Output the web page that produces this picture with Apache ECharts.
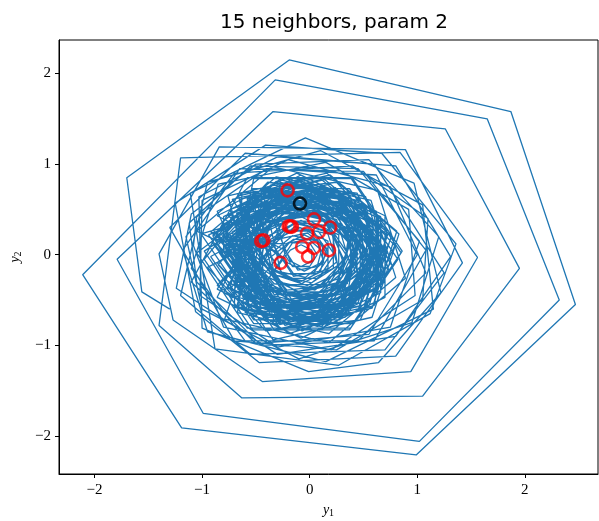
<!DOCTYPE html>
<html>
<head>
<meta charset="utf-8">
<script src="https://cdn.jsdelivr.net/npm/echarts@6/dist/echarts.min.js"></script>
<style>html,body{margin:0;padding:0;background:#fff}#c{width:599px;height:521px}</style>
</head>
<body>
<div id="c"></div>
<script>
const titleText = '15 neighbors, param 2';
const xTicks = [-2, -1, 0, 1, 2];
const yTicks = [-2, -1, 0, 1, 2];

// outer and medium loops of the trajectory (y1, y2)
const trajOuter = [
  [-1.30,-0.60],
  [-1.56,-0.41],[-1.70,0.85],[-0.19,2.15],[1.87,1.58],[2.47,-0.55],[0.99,-2.21],[-1.19,-1.91],[-2.11,-0.22],
  [-0.32,1.93],[1.65,1.50],[2.32,-0.50],[1.02,-2.06],[-0.99,-1.75],[-1.79,-0.05],
  [-0.34,1.58],[1.26,1.39],[1.95,-0.15],[1.05,-1.56],[-0.63,-1.58],[-1.40,-0.78],
  [-1.20,1.07],[0.84,1.13],[1.56,-0.03],[0.94,-1.29],[-0.44,-1.40],[-1.27,-0.72],
  [-1.40,0.01],[-0.84,1.19],[0.89,1.16],[1.42,-0.09],[0.80,-1.12],[-0.47,-1.19],[-1.06,-0.63],
  [-1.25,0.57],[-0.41,1.21],[0.67,1.12],[1.36,0.12],[1.12,-0.65],[0.27,-1.22],[-0.88,-1.04],
  [-1.11,0.68],[-0.04,1.29],[0.97,0.79],[1.22,-0.42],[0.64,-1.19],[-0.01,-1.29],[-1.00,-0.81],
  [-1.03,0.64],[-0.30,1.08],[0.80,0.98],[1.31,-0.02],[0.80,-0.90],[-0.30,-1.10],
  [-1.24,-0.37],[-1.10,0.45],[-0.50,1.00],[0.55,1.05],[1.20,0.20],[0.95,-0.75],[-0.10,-1.15],[-1.00,-0.60],
  [-1.15,0.20],[-0.70,0.90],[0.40,0.98],[1.10,0.40],[1.05,-0.50],[0.25,-1.05],[-0.70,-0.95],
  [-1.30,0.30],[-0.60,1.12],[0.60,1.00],[1.25,-0.20],[0.70,-1.05],[-0.55,-1.10],[-1.20,-0.45],
  [-0.95,0.80],[0.10,1.15],[1.05,0.55],[1.15,-0.60],[0.15,-1.18],[-0.95,-0.85],
  [-1.18,0.05],[-0.65,0.95],[0.50,0.92],[1.08,0.05],[0.60,-0.95],[-0.45,-1.00],[-1.05,-0.30],
  [-1.12,0.35],[-0.55,0.98],[0.45,0.95],[1.02,0.15],[0.75,-0.80],[-0.30,-1.02],[-1.02,-0.45],
  [-1.00,0.60],[-0.20,1.05],[0.75,0.75],[1.08,-0.20],[0.45,-0.95],[-0.60,-0.95],[-1.10,-0.15],
  [-0.85,0.78],[0.15,1.02],[0.92,0.50],[0.98,-0.45],[0.20,-1.05],[-0.80,-0.80],[-1.08,0.10],
  [-1.05,0.42],[-0.40,0.95],[0.62,0.88],[1.00,0.00],[0.55,-0.88],[-0.50,-0.98],[-1.10,-0.30]
];

// dense inner loops of the trajectory (y1, y2)
const trajInner = [
  [-0.58,0.85],[0.38,0.85],[0.85,0.02],[0.38,-0.81],[-0.58,-0.81],[-1.05,0.02],
  [-0.55,0.47],[0.13,0.65],[0.63,0.15],[0.45,-0.53],[-0.23,-0.71],[-0.73,0.15],
  [-0.86,0.48],[-0.12,0.90],[0.62,0.48],[0.62,-0.38],[-0.12,-0.80],[-0.86,-0.38],
  [-0.55,0.14],[-0.16,0.53],[0.37,0.39],[0.51,-0.14],[0.12,-0.53],[-0.41,-0.39],
  [-0.53,0.73],[0.37,0.73],[0.82,-0.05],[0.37,-0.83],[-0.53,-0.83],[-0.98,-0.05],
  [-0.61,0.49],[0.02,0.66],[0.48,0.20],[0.31,-0.43],[-0.32,-0.60],[-0.78,0.20],
  [-0.73,0.41],[-0.05,0.80],[0.63,0.41],[0.63,-0.37],[-0.05,-0.76],[-0.73,-0.37],
  [-0.33,0.37],[0.13,0.37],[0.35,-0.02],[0.13,-0.41],[-0.33,-0.41],[-0.55,-0.02],
  [-1.05,0.26],[-0.34,0.97],[0.63,0.71],[0.89,-0.26],[0.18,-0.97],[-0.79,-0.71],
  [-0.45,0.48],[0.14,0.63],[0.56,0.21],[0.41,-0.38],[-0.18,-0.53],[-0.60,0.21],
  [-0.52,0.68],[0.28,0.68],[0.68,-0.02],[0.28,-0.72],[-0.52,-0.72],[-0.92,-0.02],
  [-0.50,0.25],[-0.06,0.50],[0.38,0.25],[0.38,-0.25],[-0.06,-0.50],[-0.50,-0.25],
  [-0.66,0.65],[0.19,0.88],[0.81,0.26],[0.58,-0.59],[-0.27,-0.82],[-0.89,0.26],
  [-0.78,0.14],[-0.28,0.64],[0.40,0.46],[0.58,-0.22],[0.08,-0.72],[-0.60,-0.54],
  [-0.25,0.37],[0.15,0.37],[0.35,0.02],[0.15,-0.33],[-0.25,-0.33],[-0.45,0.02],
  [-0.74,0.38],[-0.09,0.75],[0.56,0.38],[0.56,-0.38],[-0.09,-0.75],[-0.74,-0.38],
  [-0.52,0.84],[0.40,0.84],[0.86,0.04],[0.40,-0.76],[-0.52,-0.76],[-0.98,0.04],
  [-0.53,0.39],[0.03,0.54],[0.44,0.13],[0.29,-0.43],[-0.27,-0.58],[-0.68,0.13],
  [-0.37,0.59],[0.31,0.59],[0.65,0.00],[0.31,-0.59],[-0.37,-0.59],[-0.71,0.00],
  [-0.38,0.21],[-0.08,0.38],[0.22,0.21],[0.22,-0.15],[-0.08,-0.32],[-0.38,-0.15],
  [-0.90,0.22],[-0.31,0.81],[0.48,0.59],[0.70,-0.20],[0.11,-0.79],[-0.68,-0.57],
  [-0.37,0.51],[0.25,0.51],[0.56,-0.03],[0.25,-0.57],[-0.37,-0.57],[-0.68,-0.03],
  [-0.43,0.36],[0.03,0.49],[0.38,0.14],[0.25,-0.32],[-0.21,-0.45],[-0.56,0.14],
  [-0.67,0.34],[-0.04,0.70],[0.59,0.34],[0.59,-0.38],[-0.04,-0.74],[-0.67,-0.38],
  [-0.22,0.26],[0.08,0.26],[0.23,0.00],[0.08,-0.26],[-0.22,-0.26],[-0.37,0.00],
  [-0.72,0.61],[0.11,0.83],[0.72,0.22],[0.50,-0.61],[-0.33,-0.83],[-0.94,0.22],
  [-0.33,0.52],[0.23,0.52],[0.50,0.04],[0.23,-0.44],[-0.33,-0.44],[-0.60,0.04],
  [-0.72,0.14],[-0.25,0.61],[0.39,0.44],[0.56,-0.20],[0.09,-0.67],[-0.55,-0.50],
  [-0.47,0.22],[-0.10,0.43],[0.27,0.22],[0.27,-0.20],[-0.10,-0.41],[-0.47,-0.20],
  [-0.45,0.70],[0.33,0.70],[0.72,0.02],[0.33,-0.66],[-0.45,-0.66],[-0.84,0.02],
  [-0.26,0.18],[-0.02,0.24],[0.16,0.07],[0.10,-0.18],[-0.15,-0.24],[-0.32,0.07],
  [-0.55,0.32],[-0.03,0.62],[0.49,0.32],[0.49,-0.28],[-0.03,-0.58],[-0.55,-0.28],
  [-0.76,0.65],[0.16,0.90],[0.83,0.23],[0.58,-0.69],[-0.34,-0.94],[-1.01,0.23],
  [-0.33,0.46],[0.19,0.46],[0.45,0.01],[0.19,-0.44],[-0.33,-0.44],[-0.59,0.01],
  [-0.42,0.08],[-0.15,0.35],[0.22,0.25],[0.32,-0.12],[0.05,-0.39],[-0.32,-0.29],
  [-0.45,0.64],[0.25,0.64],[0.60,0.03],[0.25,-0.58],[-0.45,-0.58],[-0.80,0.03],
  [-0.80,0.42],[-0.07,0.84],[0.66,0.42],[0.66,-0.42],[-0.07,-0.84],[-0.80,-0.42],
  [-0.41,0.35],[0.04,0.47],[0.37,0.14],[0.25,-0.31],[-0.20,-0.43],[-0.53,0.14],
  [-0.36,0.55],[0.28,0.55],[0.60,-0.01],[0.28,-0.57],[-0.36,-0.57],[-0.68,-0.01],
  [-0.35,0.15],[-0.09,0.30],[0.17,0.15],[0.17,-0.15],[-0.09,-0.30],[-0.35,-0.15],
  [-0.56,0.63],[0.24,0.74],[0.73,0.11],[0.44,-0.63],[-0.36,-0.74],[-0.85,-0.11],
  [-0.51,0.36],[0.00,0.56],[0.43,0.22],[0.35,-0.32],[-0.16,-0.52],[-0.59,-0.18],
  [-0.72,0.25],[-0.15,0.69],[0.52,0.43],[0.62,-0.29],[0.05,-0.73],[-0.62,-0.47],
  [-0.71,0.10],[-0.33,0.59],[0.28,0.50],[0.51,-0.08],[0.13,-0.57],[-0.48,-0.48],
  [-0.74,0.50],[0.05,0.81],[0.72,0.28],[0.60,-0.56],[-0.19,-0.87],[-0.86,-0.34],
  [-0.32,0.39],[0.13,0.45],[0.41,0.09],[0.24,-0.33],[-0.21,-0.39],[-0.49,-0.03],
  [-0.76,0.10],[-0.34,0.63],[0.33,0.54],[0.58,-0.10],[0.16,-0.63],[-0.51,-0.54],
  [-0.58,0.62],[0.17,0.73],[0.64,0.13],[0.36,-0.58],[-0.39,-0.69],[-0.86,-0.09],
  [-0.52,0.18],[-0.12,0.49],[0.35,0.30],[0.42,-0.20],[0.02,-0.51],[-0.45,-0.32],
  [-0.87,0.12],[-0.36,0.77],[0.45,0.66],[0.75,-0.10],[0.24,-0.75],[-0.57,-0.64],
  [-0.56,0.34],[-0.02,0.55],[0.44,0.19],[0.36,-0.38],[-0.18,-0.59],[-0.64,-0.23],
  [-0.46,0.57],[0.23,0.67],[0.66,0.12],[0.40,-0.53],[-0.29,-0.63],[-0.72,-0.08],
  [-0.48,0.06],[-0.23,0.37],[0.17,0.32],[0.32,-0.06],[0.07,-0.37],[-0.33,-0.32],
  [-0.82,0.32],[-0.20,0.80],[0.53,0.51],[0.64,-0.26],[0.02,-0.74],[-0.71,-0.45],
  [-0.56,0.39],[0.04,0.62],[0.55,0.23],[0.46,-0.41],[-0.14,-0.64],[-0.65,-0.25],
  [-0.63,0.68],[0.25,0.80],[0.79,0.10],[0.47,-0.72],[-0.41,-0.84],[-0.95,-0.14],
  [-0.57,0.09],[-0.25,0.50],[0.26,0.43],[0.45,-0.05],[0.13,-0.46],[-0.38,-0.39],
  [-0.68,0.46],[0.00,0.73],[0.59,0.27],[0.48,-0.46],[-0.20,-0.73],[-0.79,-0.27],
  [-0.40,0.14],[-0.12,0.36],[0.21,0.23],[0.26,-0.12],[-0.02,-0.34],[-0.35,-0.21],
  [-0.47,0.49],[0.18,0.58],[0.59,0.06],[0.35,-0.55],[-0.30,-0.64],[-0.71,-0.12],
  [-0.78,0.30],[-0.15,0.79],[0.59,0.50],[0.70,-0.30],[0.07,-0.79],[-0.67,-0.50],
  [-0.44,0.45],[0.12,0.53],[0.46,0.09],[0.26,-0.43],[-0.30,-0.51],[-0.64,-0.07],
  [-0.78,0.09],[-0.34,0.66],[0.38,0.56],[0.64,-0.11],[0.20,-0.68],[-0.52,-0.58],
  [-0.40,0.29],[0.01,0.46],[0.36,0.18],[0.30,-0.25],[-0.11,-0.42],[-0.46,-0.14],
  [-0.67,0.22],[-0.19,0.59],[0.36,0.37],[0.45,-0.22],[-0.03,-0.59],[-0.58,-0.37],
  [-0.91,0.14],[-0.39,0.80],[0.44,0.68],[0.75,-0.10],[0.23,-0.76],[-0.60,-0.64],
  [-0.36,0.37],[0.12,0.44],[0.42,0.06],[0.24,-0.39],[-0.24,-0.46],[-0.54,-0.08],
  [-0.64,0.46],[0.01,0.72],[0.56,0.29],[0.46,-0.40],[-0.19,-0.66],[-0.74,-0.23],
  [-0.61,0.21],[-0.12,0.59],[0.46,0.36],[0.55,-0.25],[0.06,-0.63],[-0.52,-0.40],
  [-0.85,0.11],[-0.38,0.71],[0.37,0.60],[0.65,-0.11],[0.18,-0.71],[-0.57,-0.60],
  [-0.16,0.13],[0.00,0.13],[0.07,0.00],[0.00,-0.13],[-0.16,-0.13],[-0.23,0.00],
  [-0.31,0.45],[0.27,0.45],[0.56,-0.05],[0.27,-0.55],[-0.31,-0.55],[-0.60,-0.05],
  [-0.60,0.49],[0.12,0.68],[0.65,0.15],[0.46,-0.57],[-0.26,-0.76],[-0.79,0.15],
  [-0.22,0.12],[-0.05,0.22],[0.12,0.12],[0.12,-0.08],[-0.05,-0.18],[-0.22,-0.08],
  [-0.67,0.37],[-0.10,0.70],[0.47,0.37],[0.47,-0.29],[-0.10,-0.62],[-0.67,-0.29],
  [-0.90,0.21],[-0.28,0.83],[0.57,0.60],[0.80,-0.25],[0.18,-0.87],[-0.67,-0.64],
  [-0.62,0.16],[-0.26,0.52],[0.25,0.39],[0.38,-0.12],[0.02,-0.48],[-0.49,-0.35],
  [-0.59,0.57],[0.19,0.78],[0.76,0.21],[0.55,-0.57],[-0.23,-0.78],[-0.80,0.21],
  [-0.33,0.04],[-0.16,0.21],[0.07,0.15],[0.13,-0.08],[-0.04,-0.25],[-0.27,-0.19],
  [-0.43,0.66],[0.27,0.66],[0.62,0.05],[0.27,-0.56],[-0.43,-0.56],[-0.78,0.05],
  [-0.49,0.44],[0.11,0.60],[0.55,0.16],[0.39,-0.44],[-0.21,-0.60],[-0.65,0.16],
  [-0.88,0.17],[-0.32,0.73],[0.43,0.52],[0.64,-0.23],[0.08,-0.79],[-0.67,-0.58],
  [-0.19,0.13],[-0.01,0.17],[0.11,0.05],[0.07,-0.13],[-0.11,-0.17],[-0.23,0.05],
  [-0.86,0.43],[-0.08,0.88],[0.70,0.43],[0.70,-0.47],[-0.08,-0.92],[-0.86,-0.47],
  [-0.58,0.19],[-0.19,0.58],[0.36,0.44],[0.50,-0.11],[0.11,-0.50],[-0.44,-0.36],
  [-0.65,0.30],[-0.06,0.64],[0.53,0.30],[0.53,-0.38],[-0.06,-0.72],[-0.65,-0.38],
  [-0.25,0.27],[0.03,0.27],[0.17,0.03],[0.03,-0.21],[-0.25,-0.21],[-0.39,0.03],
  [-0.65,0.61],[0.14,0.83],[0.73,0.24],[0.51,-0.55],[-0.28,-0.77],[-0.87,0.24],
  [-0.40,0.51],[0.20,0.51],[0.50,-0.01],[0.20,-0.53],[-0.40,-0.53],[-0.70,-0.01],
  [-0.73,0.20],[-0.22,0.71],[0.48,0.52],[0.67,-0.18],[0.16,-0.69],[-0.54,-0.50],
  [-0.18,0.05],[-0.08,0.11],[0.02,0.05],[0.02,-0.07],[-0.08,-0.13],[-0.18,-0.07],
  [-0.43,0.63],[0.33,0.63],[0.71,-0.03],[0.33,-0.69],[-0.43,-0.69],[-0.81,-0.03],
  [-0.40,0.36],[0.09,0.49],[0.45,0.13],[0.32,-0.36],[-0.17,-0.49],[-0.53,0.13],
  [-0.92,0.25],[-0.31,0.86],[0.52,0.64],[0.74,-0.19],[0.13,-0.80],[-0.70,-0.58],
  [-0.68,0.32],[-0.12,0.64],[0.44,0.32],[0.44,-0.32],[-0.12,-0.64],[-0.68,-0.32],
  [-0.15,0.17],[0.07,0.17],[0.18,-0.02],[0.07,-0.21],[-0.15,-0.21],[-0.26,-0.02],
  [-0.76,0.43],[-0.06,0.83],[0.64,0.43],[0.64,-0.37],[-0.06,-0.77],[-0.76,-0.37],
  [-0.60,0.10],[-0.22,0.48],[0.30,0.34],[0.44,-0.18],[0.06,-0.56],[-0.46,-0.42],
  [-0.60,0.52],[0.08,0.70],[0.58,0.20],[0.40,-0.48],[-0.28,-0.66],[-0.78,0.20],
  [-0.37,0.08],[-0.14,0.31],[0.17,0.23],[0.25,-0.08],[0.02,-0.31],[-0.29,-0.23]
];

const neighborsY1 = [-0.205, 0.04, -0.195, -0.165, -0.18, 0.19, -0.025, 0.085, -0.45, -0.43, -0.07, 0.04, 0.18, -0.015, -0.27];
const neighborsY2 = [0.71, 0.39, 0.315, 0.31, 0.31, 0.30, 0.235, 0.25, 0.15, 0.16, 0.086, 0.075, 0.05, -0.02, -0.09];
const queryY1 = [-0.09];
const queryY2 = [0.565];

const fmt = v => String(v).replace('-', '\u2212');
const tickFont = {fontFamily: 'Liberation Serif', fontSize: 15, color: '#000'};

const chart = echarts.init(document.getElementById('c'), null, {renderer: 'canvas'});
chart.setOption({
  animation: false,
  backgroundColor: '#fff',
  title: {
    text: titleText,
    left: 329, top: 8, textAlign: 'center',
    textStyle: {fontFamily: 'DejaVu Sans', fontSize: 20, fontWeight: 'normal', color: '#000'}
  },
  grid: {left: 59, right: 1, top: 40, bottom: 47, containLabel: false, outerBoundsMode: 'none',
         show: true, borderColor: '#000', borderWidth: 1, backgroundColor: 'transparent'},
  xAxis: {
    type: 'value', min: -2.33, max: 2.68,
    axisLine: {onZero: false, lineStyle: {color: '#000', width: 1}},
    axisTick: {show: true, length: 4, lineStyle: {color: '#000'}, customValues: xTicks},
    axisLabel: Object.assign({margin: 9, formatter: fmt, customValues: xTicks}, tickFont),
    splitLine: {show: false},
    name: '{i|y}{s|1}', nameLocation: 'middle', nameGap: 28,
    nameTextStyle: {rich: {i: {fontFamily: 'Liberation Serif', fontStyle: 'italic', fontSize: 14, color: '#000'},
                           s: {fontFamily: 'Liberation Serif', fontSize: 10, color: '#000', padding: [6, 0, 0, 0]}}}
  },
  yAxis: {
    type: 'value', min: -2.42, max: 2.37,
    axisLine: {onZero: false, lineStyle: {color: '#000', width: 1}},
    axisTick: {show: true, length: 4, lineStyle: {color: '#000'}, customValues: yTicks},
    axisLabel: Object.assign({margin: 8, formatter: fmt, customValues: yTicks}, tickFont),
    splitLine: {show: false},
    name: '{i|y}{s|2}', nameLocation: 'middle', nameGap: 36,
    nameTextStyle: {rich: {i: {fontFamily: 'Liberation Serif', fontStyle: 'italic', fontSize: 14, color: '#000'},
                           s: {fontFamily: 'Liberation Serif', fontSize: 10, color: '#000', padding: [6, 0, 0, 0]}}}
  },
  series: [
    {
      type: 'line', data: trajOuter.concat(trajInner), showSymbol: false, symbol: 'none',
      lineStyle: {color: '#1f77b4', width: 1.3}, clip: true, z: 2
    },
    {
      type: 'scatter', data: neighborsY1.map((v, i) => [v, neighborsY2[i]]),
      symbol: 'circle', symbolSize: 12,
      itemStyle: {color: 'rgba(0,0,0,0)', borderColor: '#ff0000', borderWidth: 2.6}, z: 3
    },
    {
      type: 'scatter', data: queryY1.map((v, i) => [v, queryY2[i]]),
      symbol: 'circle', symbolSize: 12,
      itemStyle: {color: 'rgba(0,0,0,0)', borderColor: '#000', borderWidth: 2.6}, z: 4
    }
  ]
});
</script>
</body>
</html>
